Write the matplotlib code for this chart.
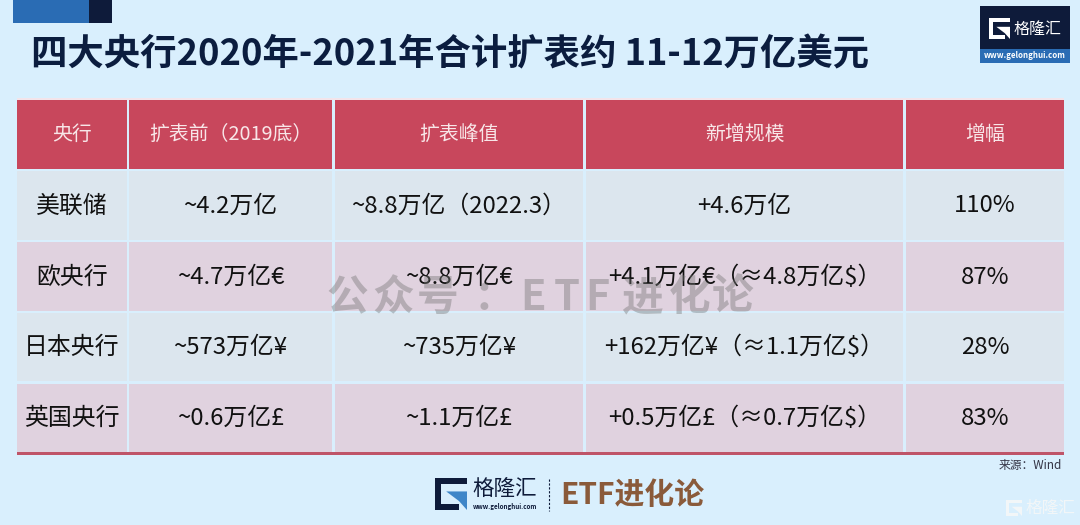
import matplotlib

matplotlib.use("Agg")
import matplotlib.pyplot as plt
from matplotlib.patches import Polygon, Rectangle

plt.rcParams["font.family"] = ["Noto Sans CJK SC", "DejaVu Sans"]

title = "四大央行2020年-2021年合计扩表约 11-12万亿美元"
headers = ["央行", "扩表前（2019底）", "扩表峰值", "新增规模", "增幅"]
banks = ["美联储", "欧央行", "日本央行", "英国央行"]
before = ["~4.2万亿", "~4.7万亿€", "~573万亿¥", "~0.6万亿£"]
peak = ["~8.8万亿（2022.3）", "~8.8万亿€", "~735万亿¥", "~1.1万亿£"]
added = ["+4.6万亿", "+4.1万亿€（≈4.8万亿$）", "+162万亿¥（≈1.1万亿$）", "+0.5万亿£（≈0.7万亿$）"]
growth = ["110%", "87%", "28%", "83%"]
watermark = "公众号：ETF进化论"

BG = "#D9EFFD"
RED = "#C8475C"
NAVY = "#0E1B3A"
BLUE = "#2A6CB4"
BROWN = "#8A5A3A"
ROW_COLORS = ["#DCE6EE", "#E0D2DF", "#DCE6EE", "#E0D2DF"]

col_edges = [(17, 127), (129, 332), (335, 583), (586, 903), (906, 1064)]
header_box = (100, 169)
row_boxes = [(171, 240), (242, 311), (313, 381), (384, 452)]
# the watermark is letter-spaced, so each glyph gets its own centre
watermark_x = [347, 393, 438, 494, 533, 567, 597, 642, 690, 732]


def box(ax, x0, y0, x1, y1, color, **kw):
    ax.add_patch(Rectangle((x0, y0), x1 - x0, y1 - y0, facecolor=color, edgecolor="none", **kw))


def g_icon(ax, x, y, s, color, accent):
    # square G mark, s is the side length in pixels
    t = s * 0.2
    box(ax, x, y, x + s, y + t, color)
    box(ax, x, y, x + t, y + s, color)
    box(ax, x, y + s - t, x + s * 0.75, y + s, color)
    ax.add_patch(Polygon([(x + s * 0.35, y + s * 0.42), (x + s, y + s * 0.42), (x + s, y + s),
                          (x + s * 0.75, y + s * 0.72)], facecolor=accent, edgecolor="none"))


fig = plt.figure(figsize=(10.8, 5.25), dpi=100, facecolor=BG)
ax = fig.add_axes([0, 0, 1, 1])
ax.set_xlim(0, 1080)
ax.set_ylim(525, 0)
ax.axis("off")

# corner tab and title
box(ax, 13, 0, 89, 23, BLUE)
box(ax, 89, 0, 112, 23, NAVY)
ax.text(31, 55, title, fontsize=26.2, fontweight="bold", color="#0B1D3F", ha="left", va="center")

# table
box(ax, 17, 98, 1064, 100, "#F3E4EA")
for (x0, x1), label in zip(col_edges, headers):
    box(ax, x0, header_box[0], x1, header_box[1], RED)
    ax.text((x0 + x1) / 2, 134, label, fontsize=14.3, color="#F8E6E8", ha="center", va="center")

columns = [banks, before, peak, added, growth]
for i, (y0, y1) in enumerate(row_boxes):
    for (x0, x1), col in zip(col_edges, columns):
        box(ax, x0, y0, x1, y1, ROW_COLORS[i])
        ax.text((x0 + x1) / 2, (y0 + y1) / 2 + 0.5, col[i], fontsize=17.2, fontweight="medium", color="#111111",
                ha="center", va="center")
box(ax, 17, 452, 1064, 455, "#BF5468")

# watermark over the table
for x, ch in zip(watermark_x, watermark):
    ax.text(x, 298, ch, fontsize=30, fontweight="bold", color="#777777", alpha=0.42, ha="center", va="center")

ax.text(1062, 466, "来源：Wind", fontsize=8.5, color="#333344", ha="right", va="center")

# top right logo
box(ax, 980, 6, 1070, 49, NAVY)
box(ax, 980, 49, 1070, 63, BLUE)
g_icon(ax, 989, 18, 21, "white", "white")
ax.text(1038, 29, "格隆汇", fontsize=11.5, color="white", ha="center", va="center")
ax.text(1025, 56, "www.gelonghui.com", fontsize=5.7, fontweight="bold", color="white", ha="center", va="center")

# bottom centre logo
g_icon(ax, 435, 478, 32, NAVY, "#3E86C8")
ax.text(505, 490, "格隆汇", fontsize=15.5, color=NAVY, ha="center", va="center")
ax.text(505, 507, "www.gelonghui.com", fontsize=4.5, fontweight="bold", color=NAVY, ha="center", va="center")
ax.plot([549, 549], [479, 511], color=NAVY, lw=0.8, ls=(0, (2, 1.5)))
ax.text(632, 495, "ETF进化论", fontsize=21.5, fontweight="bold", color=BROWN, ha="center", va="center")

# bottom right faint mark
g_icon(ax, 1006, 500, 16, "#F2F6F8", "#F2F6F8")
ax.text(1050, 508, "格隆汇", fontsize=12, color="#F2F6F8", ha="center", va="center")

fig.savefig("out.png", dpi=100, facecolor=BG)
plt.close(fig)
